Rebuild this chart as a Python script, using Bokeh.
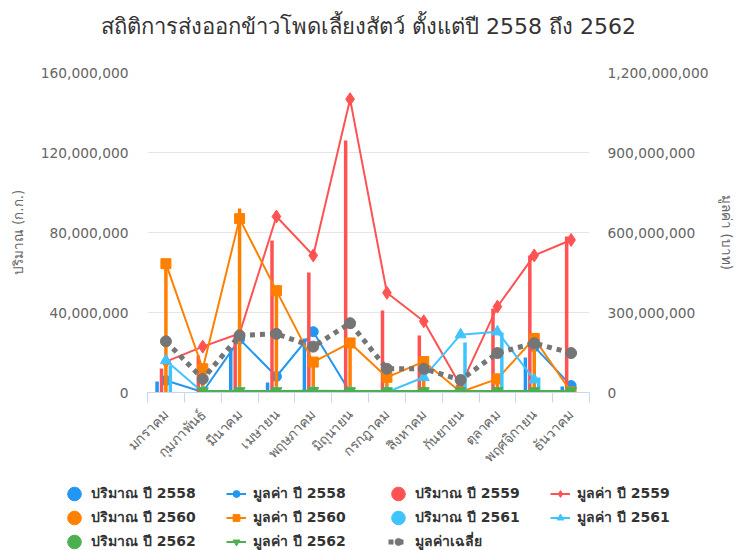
import math
from bokeh.plotting import figure
from bokeh.layouts import column
from bokeh.models import (ColumnDataSource, Range1d, LinearAxis, FixedTicker,
                          NumeralTickFormatter, Legend, LegendItem, Title)
from bokeh.transform import dodge
from bokeh.embed import file_html
from bokeh.resources import INLINE

nan = float("nan")

months = ["มกราคม", "กุมภาพันธ์", "มีนาคม", "เมษายน", "พฤษภาคม", "มิถุนายน",
          "กรกฎาคม", "สิงหาคม", "กันยายน", "ตุลาคม", "พฤศจิกายน", "ธันวาคม"]

# ปริมาณ (kg) – left axis
qty_2558 = [5.5e6, 0.2e6, 22e6, 5e6, 27e6, 0.2e6, 0.2e6, 0.2e6, 0.2e6, nan, 17.5e6, 3e6]
qty_2559 = [12e6, 18.5e6, 28e6, 76e6, 60e6, 126e6, 41e6, 28.5e6, 1e6, 42e6, 68.5e6, 78e6]
qty_2560 = [64e6, 13.5e6, 92e6, 53e6, 17.5e6, 24.5e6, 9e6, 16.5e6, 0.5e6, 9.5e6, 28.5e6, 1e6]
qty_2561 = [13.5e6, 0.2e6, 0.2e6, 0.2e6, 0.2e6, 0.2e6, 0.2e6, 0.2e6, 25e6, 30e6, 7.5e6, nan]
qty_2562 = [nan, 0.3e6, 0.3e6, 0.3e6, 0.5e6, 0.3e6, 0.3e6, 0.3e6, 0.3e6, 0.3e6, 0.3e6, 0.3e6]

# มูลค่า (baht) – right axis
val_2558 = [45e6, 2e6, 200e6, 60e6, 228e6, 1e6, 0, 1e6, 0, nan, 172e6, 26e6]
val_2559 = [116e6, 172e6, 221e6, 660e6, 514e6, 1100e6, 374e6, 267e6, 25e6, 322e6, 514e6, 572e6]
val_2560 = [483e6, 89e6, 652e6, 382e6, 114e6, 186e6, 57e6, 116e6, 2e6, 51e6, 203e6, 2e6]
val_2561 = [120e6, 1e6, 1e6, 1e6, 1e6, 1e6, 1e6, 57e6, 217e6, 228e6, 48e6, nan]
val_2562 = [nan, 6e6, 6e6, 6e6, 7e6, 6e6, 6e6, 6e6, 6e6, 6e6, 6e6, 6e6]
val_avg = [192e6, 51e6, 214e6, 220e6, 172e6, 260e6, 89e6, 89e6, 47e6, 148e6, 185e6, 148e6]

left_ticks = [0, 40e6, 80e6, 120e6, 160e6]
right_ticks = [0, 300e6, 600e6, 900e6, 1200e6]

title_text = "สถิติการส่งออกข้าวโพดเลี้ยงสัตว์ ตั้งแต่ปี 2558 ถึง 2562"
left_title = "ปริมาณ (ก.ก.)"
right_title = "มูลค่า (บาท)"

colors = ["#2196f3", "#ff5252", "#ff8000", "#40c4ff", "#4caf50"]
avg_color = "#757575"
years = ["2558", "2559", "2560", "2561", "2562"]
markers = ["circle", "diamond", "square", "triangle", "inverted_triangle"]
msizes = [10, 13, 10, 11, 11]
offsets = [-0.24, -0.12, 0.0, 0.12, 0.24]

src = ColumnDataSource(dict(
    x=list(range(len(months))),
    q2558=qty_2558, q2559=qty_2559, q2560=qty_2560, q2561=qty_2561, q2562=qty_2562,
    v2558=val_2558, v2559=val_2559, v2560=val_2560, v2561=val_2561, v2562=val_2562,
    vavg=val_avg,
))

FONT = "DejaVu Sans"
TICK_FS = "13.8px"

p = figure(width=738, height=483, output_backend="svg", toolbar_location=None,
           x_range=Range1d(-0.5, len(months) - 0.5), y_range=Range1d(0, 160e6))
p.min_border_left = 147
p.min_border_right = 147
p.min_border_top = 72
p.min_border_bottom = 91
p.outline_line_color = None
p.background_fill_color = "white"
p.border_fill_color = "white"

# spacer between frame and title (added first -> closest to the frame)
p.add_layout(Title(text=" ", text_font_size="2px", standoff=30), "above")
p.add_layout(Title(text=title_text, align="center", text_font=FONT,
                   text_font_size="22px", text_font_style="normal",
                   text_color="#333333", standoff=0), "above")

p.extra_y_ranges = {"right": Range1d(0, 1200e6)}

# axes
xa = p.xaxis[0]
xa.ticker = FixedTicker(ticks=list(range(len(months))),
                        minor_ticks=[i - 0.5 for i in range(len(months) + 1)])
xa.major_label_overrides = {i: m for i, m in enumerate(months)}
xa.major_label_orientation = math.pi / 4
xa.major_tick_line_color = None
xa.major_tick_out = 0
xa.major_tick_in = 0
xa.minor_tick_line_color = "#ccd6eb"
xa.minor_tick_out = 10
xa.minor_tick_in = 0
xa.axis_line_color = "#ccd6eb"
xa.major_label_text_color = "#666666"
xa.major_label_text_font = FONT
xa.major_label_text_font_size = TICK_FS
xa.major_label_standoff = 10

ya = p.yaxis[0]
ya.ticker = FixedTicker(ticks=left_ticks)
ya.formatter = NumeralTickFormatter(format="0,0")
ya.axis_line_color = None
ya.major_tick_line_color = None
ya.minor_tick_line_color = None
ya.major_tick_out = 0
ya.major_tick_in = 0
ya.major_label_standoff = 19
ya.major_label_text_color = "#666666"
ya.major_label_text_font = FONT
ya.major_label_text_font_size = TICK_FS
ya.axis_label = left_title
ya.axis_label_text_font = FONT
ya.axis_label_text_font_size = "13.5px"
ya.axis_label_text_font_style = "normal"
ya.axis_label_text_color = "#666666"
ya.axis_label_standoff = 12

ra = LinearAxis(y_range_name="right", ticker=FixedTicker(ticks=right_ticks),
                formatter=NumeralTickFormatter(format="0,0"))
ra.axis_line_color = None
ra.major_tick_line_color = None
ra.minor_tick_line_color = None
ra.major_tick_out = 0
ra.major_tick_in = 0
ra.major_label_standoff = 18
ra.major_label_text_color = "#666666"
ra.major_label_text_font = FONT
ra.major_label_text_font_size = TICK_FS
ra.axis_label = right_title
ra.axis_label_text_font = FONT
ra.axis_label_text_font_size = "13.5px"
ra.axis_label_text_font_style = "normal"
ra.axis_label_text_color = "#666666"
ra.axis_label_standoff = 8
p.add_layout(ra, "right")

p.xgrid.visible = False
p.ygrid.grid_line_color = "#e6e6e6"
p.ygrid.ticker = FixedTicker(ticks=left_ticks)

for yr, c, mk, ms, off in zip(years, colors, markers, msizes, offsets):
    p.vbar(x=dodge("x", off, range=p.x_range), top="q" + yr, width=0.095, bottom=0,
           source=src, fill_color=c, line_color=None)
    p.line(x="x", y="v" + yr, source=src, y_range_name="right",
           line_color=c, line_width=2)
    p.scatter(x="x", y="v" + yr, source=src, y_range_name="right",
              marker=mk, size=ms, fill_color=c, line_color=c)

p.line(x="x", y="vavg", source=src, y_range_name="right",
       line_color=avg_color, line_width=5, line_dash="5 5")
p.scatter(x="x", y="vavg", source=src, y_range_name="right",
          marker="circle", size=11, fill_color=avg_color, line_color=avg_color)

# ---- legend strip (separate figure so the legend is not clipped) ----
lf = figure(width=738, height=67, output_backend="svg", toolbar_location=None,
            x_axis_type=None, y_axis_type=None,
            x_range=Range1d(0, 1), y_range=Range1d(0, 1), min_border=0)
lf.frame_align = False
lf.outline_line_color = None
lf.grid.visible = False

proxy_src = ColumnDataSource(dict(x=[nan], y=[nan]))
qty_items = {}
val_items = {}
for yr, c, mk in zip(years, colors, markers):
    e = lf.ellipse(x="x", y="y", width=12, height=12, width_units="screen",
                   height_units="screen", source=proxy_src, fill_color=c, line_color=c)
    l = lf.line(x="x", y="y", source=proxy_src, line_color=c, line_width=2)
    s = lf.scatter(x="x", y="y", source=proxy_src, marker=mk, size=8,
                   fill_color=c, line_color=c)
    qty_items[yr] = LegendItem(label="ปริมาณ ปี " + yr, renderers=[e])
    val_items[yr] = LegendItem(label="มูลค่า ปี " + yr, renderers=[l, s])
la = lf.line(x="x", y="y", source=proxy_src, line_color=avg_color, line_width=5,
             line_dash="5 5")
sa = lf.scatter(x="x", y="y", source=proxy_src, marker="circle", size=8,
                fill_color=avg_color, line_color=avg_color)
avg_item = LegendItem(label="มูลค่าเฉลี่ย", renderers=[la, sa])

items = [qty_items["2558"], val_items["2558"], qty_items["2559"], val_items["2559"],
         qty_items["2560"], val_items["2560"], qty_items["2561"], val_items["2561"],
         qty_items["2562"], val_items["2562"], avg_item]

leg = Legend(items=items, orientation="horizontal", ncols=4,
             location=(64, -2),
             glyph_width=20, glyph_height=17, label_height=21, label_width=133,
             label_standoff=7, padding=0, margin=0, spacing=2,
             border_line_color=None, background_fill_alpha=0,
             label_text_font=FONT, label_text_font_size="14px",
             label_text_font_style="bold", label_text_color="#333333")
lf.add_layout(leg)

layout = column(p, lf, spacing=0)
open("out.html", "w").write(file_html(layout, INLINE))
